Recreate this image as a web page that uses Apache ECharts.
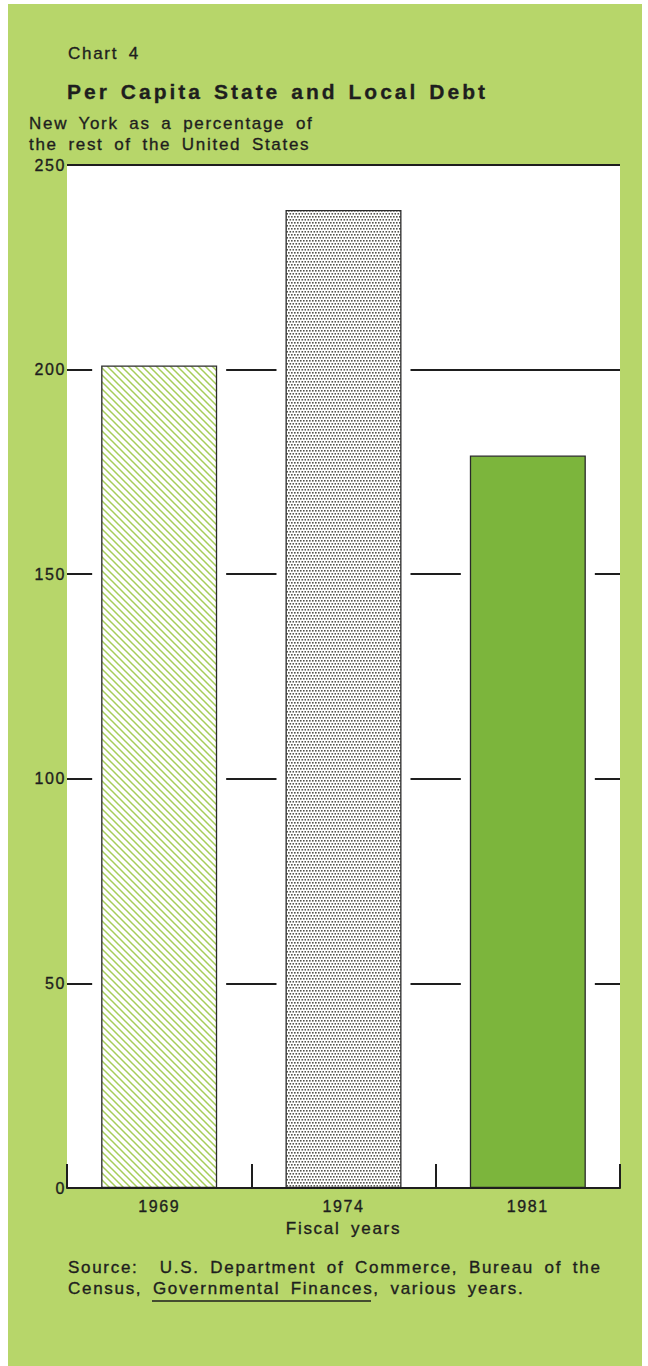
<!DOCTYPE html>
<html><head><meta charset="utf-8">
<script src="https://cdn.jsdelivr.net/npm/echarts@6/dist/echarts.min.js"></script>
<style>
html,body{margin:0;padding:0;background:#fff;}
#wrap{position:relative;width:648px;height:1366px;overflow:hidden;}
#page{position:absolute;left:8px;top:4px;width:634px;height:1362px;background:#b7d66a;}
#chart{position:absolute;left:0;top:0;width:648px;height:1366px;}
#chart text{letter-spacing:0.1em;word-spacing:0.25em;stroke:#1e1e1e;stroke-width:0.35px;}
#chart text[style*="bold"]{letter-spacing:0.143em;word-spacing:0.1em;stroke-width:0.3px;}
</style></head><body>
<div id="wrap"><div id="page"></div><div id="chart"></div></div>
<script>
// ---- data ----
const categories = ['1969', '1974', '1981'];
const debtRatio = [201, 239, 179];
const yTicks = [0, 50, 100, 150, 200, 250];
const chartLabel = 'Chart 4';
const titleText = 'Per Capita State and Local Debt';
const unitLines = ['New York as a percentage of', 'the rest of the United States'];
const xAxisName = 'Fiscal years';
const sourceLines = ['Source:\u00a0 U.S. Department of Commerce, Bureau of the', 'Census, Governmental Finances, various years.'];

// ---- styles ----
const FONT = "'Liberation Sans', Arial, Helvetica, sans-serif";
const INK = '#1e1e1e';

function hatchPattern() {
  const c = document.createElement('canvas'); c.width = 7; c.height = 7;
  const g = c.getContext('2d');
  g.fillStyle = '#ffffff'; g.fillRect(0, 0, 7, 7);
  g.strokeStyle = '#a6cd5a'; g.lineWidth = 1.5;
  g.beginPath();
  g.moveTo(-1, -1); g.lineTo(8, 8);
  g.moveTo(-1, 6); g.lineTo(1, 8);
  g.moveTo(6, -1); g.lineTo(8, 1);
  g.stroke();
  return { image: c, repeat: 'repeat', imageWidth: 7, imageHeight: 7 };
}
function stipplePattern() {
  const c = document.createElement('canvas'); c.width = 6; c.height = 6;
  const g = c.getContext('2d');
  g.fillStyle = '#ffffff'; g.fillRect(0, 0, 6, 6);
  g.fillStyle = '#55554f';
  [[0, 0], [3, 0], [1.5, 3], [4.5, 3]].forEach(p => g.fillRect(p[0], p[1], 1.6, 1.6));
  return { image: c, repeat: 'repeat', imageWidth: 6, imageHeight: 6 };
}
const barFills = [hatchPattern(), stipplePattern(), '#7cb53c'];

const chart = echarts.init(document.getElementById('chart'), null, { renderer: 'svg', width: 648, height: 1366 });

const option = {
  animation: false,
  backgroundColor: 'transparent',
  grid: { left: 67, right: 28, top: 165, bottom: 178, show: true, backgroundColor: '#ffffff', borderWidth: 0 },
  xAxis: [
    {
      type: 'category', data: categories, z: 10,
      axisLine: { lineStyle: { color: INK, width: 2 } },
      axisTick: { show: true, inside: true, length: 24, lineStyle: { color: INK, width: 2 } },
      axisLabel: { fontSize: 16, color: INK, fontFamily: FONT, margin: 10 },
      name: xAxisName, nameLocation: 'middle', nameGap: 32,
      nameTextStyle: { fontSize: 17, color: INK, fontFamily: FONT }
    },
    { type: 'category', data: categories, show: false }
  ],
  yAxis: {
    type: 'value', min: yTicks[0], max: yTicks[yTicks.length - 1], interval: yTicks[1] - yTicks[0],
    axisLine: { show: false }, axisTick: { show: false },
    axisLabel: { fontSize: 16, color: INK, fontFamily: FONT, margin: 1 },
    splitLine: { lineStyle: { color: INK, width: 2 } }
  },
  series: [
    {
      type: 'bar', xAxisIndex: 1, data: debtRatio, barWidth: 134, silent: true, z: 2,
      itemStyle: { color: '#ffffff' }
    },
    {
      type: 'bar', xAxisIndex: 0, barWidth: 116, z: 3,
      data: debtRatio.map((v, i) => ({ value: v, itemStyle: { color: barFills[i] } })),
      itemStyle: { borderColor: '#2a2a2a', borderWidth: 1.3 }
    }
  ],
  graphic: [
    { type: 'text', x: 68, y: 53, style: { text: chartLabel, fontSize: 17, fontFamily: FONT, fill: INK, textVerticalAlign: 'middle' } },
    { type: 'text', x: 67, y: 91, style: { text: titleText, fontSize: 21, fontWeight: 'bold', fontFamily: FONT, fill: INK, textVerticalAlign: 'middle' } },
    { type: 'text', x: 29, y: 123, style: { text: unitLines[0], fontSize: 17, fontFamily: FONT, fill: INK, textVerticalAlign: 'middle' } },
    { type: 'text', x: 29, y: 144, style: { text: unitLines[1], fontSize: 17, fontFamily: FONT, fill: INK, textVerticalAlign: 'middle' } },
    { type: 'text', x: 68, y: 1267, style: { text: sourceLines[0], fontSize: 17, fontFamily: FONT, fill: INK, textVerticalAlign: 'middle' } },
    { type: 'text', x: 68, y: 1288, style: { text: sourceLines[1], fontSize: 17, fontFamily: FONT, fill: INK, textVerticalAlign: 'middle' } },
    { type: 'line', shape: { x1: 152, y1: 1301, x2: 371, y2: 1301 }, style: { stroke: INK, lineWidth: 1.5 } }
  ]
};
chart.setOption(option);
</script>
</body></html>
